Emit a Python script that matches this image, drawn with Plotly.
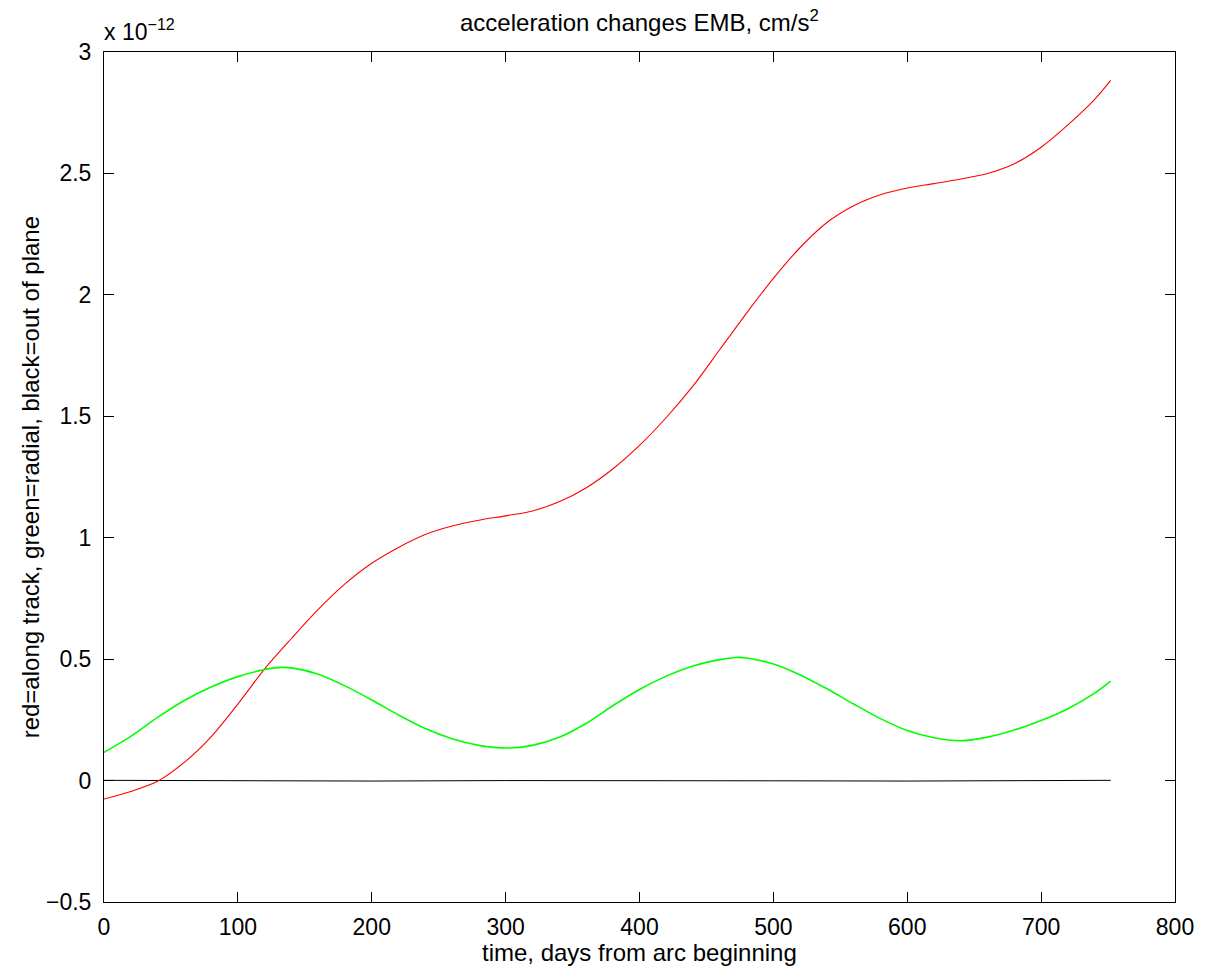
import plotly.graph_objects as go

# Values in units of 1e-12 cm/s^2
red_days = [0, 20, 40, 60, 80, 100, 120, 140, 160, 180, 200, 220, 240, 260, 280, 300,
            320, 340, 360, 380, 400, 420, 440, 460, 480, 500, 520, 540, 560, 580, 600,
            620, 640, 660, 680, 700, 720, 740, 752]
red_vals = [-0.076, -0.045, -0.003, 0.075, 0.18, 0.315, 0.46, 0.585, 0.705, 0.81, 0.895,
            0.96, 1.013, 1.048, 1.072, 1.090, 1.110, 1.148, 1.205, 1.283, 1.380, 1.495,
            1.625, 1.775, 1.925, 2.068, 2.195, 2.298, 2.367, 2.412, 2.440, 2.458, 2.477,
            2.500, 2.540, 2.608, 2.700, 2.805, 2.883]

green_days = [0, 20, 40, 60, 80, 100, 120, 132, 140, 160, 180, 200, 220, 240, 260, 280,
              302, 320, 340, 360, 380, 400, 420, 440, 460, 472, 480, 500, 520, 540, 560,
              580, 600, 620, 640, 660, 680, 700, 720, 740, 752]
green_vals = [0.116, 0.182, 0.260, 0.330, 0.385, 0.428, 0.457, 0.466, 0.464, 0.438, 0.390,
              0.332, 0.270, 0.214, 0.172, 0.145, 0.134, 0.145, 0.178, 0.235, 0.308, 0.375,
              0.430, 0.472, 0.498, 0.507, 0.505, 0.480, 0.435, 0.378, 0.315, 0.255, 0.206,
              0.176, 0.164, 0.179, 0.208, 0.247, 0.296, 0.360, 0.409]

black_days = [0, 100, 200, 300, 400, 500, 600, 700, 752]
black_vals = [0.001, -0.001, -0.002, 0.0, 0.001, -0.001, -0.002, 0.0, 0.001]

y_ticks = [-0.5, 0, 0.5, 1, 1.5, 2, 2.5, 3]
y_ticktext = ["\u22120.5", "0", "0.5", "1", "1.5", "2", "2.5", "3"]
x_ticks = [0, 100, 200, 300, 400, 500, 600, 700, 800]

FONT = "Liberation Sans, Arial, sans-serif"

fig = go.Figure()
fig.add_trace(go.Scatter(x=black_days, y=black_vals, mode="lines",
                         line=dict(color="black", width=1), hoverinfo="skip"))
fig.add_trace(go.Scatter(x=red_days, y=red_vals, mode="lines",
                         line=dict(color="#ff0000", width=1.1, shape="spline", smoothing=0.8)))
fig.add_trace(go.Scatter(x=green_days, y=green_vals, mode="lines",
                         line=dict(color="#00ff00", width=1.6, shape="spline", smoothing=0.8)))

L, R, T, B = 104, 26, 52, 66
H = 968 - T - B


def py(p):
    return (968 - B - p) / H


fig.update_layout(
    width=1206, height=968, autosize=False,
    margin=dict(l=L, r=R, t=T, b=B, pad=0),
    paper_bgcolor="white", plot_bgcolor="white",
    showlegend=False,
    font=dict(family=FONT, size=23, color="black"),
    xaxis=dict(range=[0, 800], tickvals=x_ticks, ticks="inside", ticklen=10,
               tickcolor="black", tickwidth=1, showline=True, linecolor="black",
               linewidth=1, mirror="ticks", showgrid=False, zeroline=False,
               tickfont=dict(family=FONT, size=23, color="black"),
               ticklabelstandoff=4),
    yaxis=dict(range=[-0.5, 3], tickvals=y_ticks, ticktext=y_ticktext, ticks="inside",
               ticklen=10, tickcolor="black", tickwidth=1, showline=True,
               linecolor="black", linewidth=1, mirror="ticks", showgrid=False,
               zeroline=False, tickfont=dict(family=FONT, size=23, color="black"),
               ticklabelstandoff=7),
    annotations=[
        dict(text="acceleration changes EMB, cm/s<sup>2</sup>", xref="paper", yref="paper",
             x=0.5, y=py(38), xanchor="center", yanchor="bottom", showarrow=False,
             font=dict(family=FONT, size=24, color="black")),
        dict(text="time, days from arc beginning", xref="paper", yref="paper",
             x=0.5, y=py(937), xanchor="center", yanchor="top", showarrow=False,
             font=dict(family=FONT, size=24, color="black")),
        dict(text="red=along track, green=radial, black=out of plane", xref="paper",
             yref="paper", x=(30 - L) / (1206 - L - R), y=0.5, xanchor="center",
             yanchor="middle", textangle=-90, showarrow=False,
             font=dict(family=FONT, size=24, color="black")),
        dict(text="x 10<sup>\u221212</sup>", xref="paper", yref="paper",
             x=-0.002, y=py(47), xanchor="left", yanchor="bottom", showarrow=False,
             font=dict(family=FONT, size=23, color="black")),
    ],
)

fig.write_html("out.html")
